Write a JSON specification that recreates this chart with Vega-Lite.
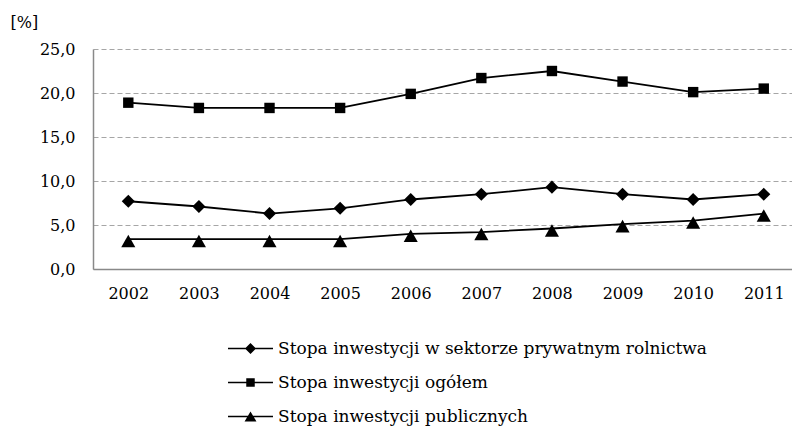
{
  "$schema": "https://vega.github.io/schema/vega-lite/v6.json",
  "width": 699,
  "height": 220,
  "autosize": {"type": "none"},
  "padding": {"left": 93, "top": 49, "right": 0, "bottom": 160},
  "background": "white",
  "config": {"font": "DejaVu Serif", "view": {"stroke": null}},
  "data": {
    "values": [
      {"series": "Stopa inwestycji w sektorze prywatnym rolnictwa", "year": 2002, "value": 7.7},
      {"series": "Stopa inwestycji w sektorze prywatnym rolnictwa", "year": 2003, "value": 7.1},
      {"series": "Stopa inwestycji w sektorze prywatnym rolnictwa", "year": 2004, "value": 6.3},
      {"series": "Stopa inwestycji w sektorze prywatnym rolnictwa", "year": 2005, "value": 6.9},
      {"series": "Stopa inwestycji w sektorze prywatnym rolnictwa", "year": 2006, "value": 7.9},
      {"series": "Stopa inwestycji w sektorze prywatnym rolnictwa", "year": 2007, "value": 8.5},
      {"series": "Stopa inwestycji w sektorze prywatnym rolnictwa", "year": 2008, "value": 9.3},
      {"series": "Stopa inwestycji w sektorze prywatnym rolnictwa", "year": 2009, "value": 8.5},
      {"series": "Stopa inwestycji w sektorze prywatnym rolnictwa", "year": 2010, "value": 7.9},
      {"series": "Stopa inwestycji w sektorze prywatnym rolnictwa", "year": 2011, "value": 8.5},
      {"series": "Stopa inwestycji ogółem", "year": 2002, "value": 18.9},
      {"series": "Stopa inwestycji ogółem", "year": 2003, "value": 18.3},
      {"series": "Stopa inwestycji ogółem", "year": 2004, "value": 18.3},
      {"series": "Stopa inwestycji ogółem", "year": 2005, "value": 18.3},
      {"series": "Stopa inwestycji ogółem", "year": 2006, "value": 19.9},
      {"series": "Stopa inwestycji ogółem", "year": 2007, "value": 21.7},
      {"series": "Stopa inwestycji ogółem", "year": 2008, "value": 22.5},
      {"series": "Stopa inwestycji ogółem", "year": 2009, "value": 21.3},
      {"series": "Stopa inwestycji ogółem", "year": 2010, "value": 20.1},
      {"series": "Stopa inwestycji ogółem", "year": 2011, "value": 20.5},
      {"series": "Stopa inwestycji publicznych", "year": 2002, "value": 3.4},
      {"series": "Stopa inwestycji publicznych", "year": 2003, "value": 3.4},
      {"series": "Stopa inwestycji publicznych", "year": 2004, "value": 3.4},
      {"series": "Stopa inwestycji publicznych", "year": 2005, "value": 3.4},
      {"series": "Stopa inwestycji publicznych", "year": 2006, "value": 4.0},
      {"series": "Stopa inwestycji publicznych", "year": 2007, "value": 4.2},
      {"series": "Stopa inwestycji publicznych", "year": 2008, "value": 4.6},
      {"series": "Stopa inwestycji publicznych", "year": 2009, "value": 5.1},
      {"series": "Stopa inwestycji publicznych", "year": 2010, "value": 5.5},
      {"series": "Stopa inwestycji publicznych", "year": 2011, "value": 6.3}
    ]
  },
  "encoding": {
    "x": {
      "field": "year",
      "type": "quantitative",
      "scale": {"domain": [2001.5, 2011.4], "nice": false, "zero": false},
      "axis": {
        "values": [2002, 2003, 2004, 2005, 2006, 2007, 2008, 2009, 2010, 2011],
        "format": "d",
        "grid": false,
        "ticks": false,
        "domainColor": "#898989",
        "domainWidth": 1.5,
        "labelFont": "DejaVu Serif",
        "labelFontSize": 16,
        "labelColor": "black",
        "labelPadding": 16,
        "labelFlush": false,
        "labelOverlap": false,
        "title": null,
        "zindex": 1
      }
    },
    "y": {
      "field": "value",
      "type": "quantitative",
      "scale": {"domain": [0, 25], "nice": false},
      "axis": {
        "values": [0, 5, 10, 15, 20, 25],
        "labelExpr": "replace(format(datum.value, '.1f'), '.', ',')",
        "grid": true,
        "gridDash": [5, 3],
        "gridColor": "#a6a6a6",
        "gridWidth": 1.2,
        "ticks": false,
        "domainColor": "#898989",
        "domainWidth": 1.5,
        "labelFont": "DejaVu Serif",
        "labelFontSize": 16,
        "labelColor": "black",
        "labelPadding": 18,
        "title": "[%]",
        "titleFont": "DejaVu Serif",
        "titleAngle": 0,
        "titleAlign": "left",
        "titleBaseline": "middle",
        "titleX": -83,
        "titleY": -27,
        "titleFontSize": 16,
        "titleFontWeight": "normal",
        "titleColor": "black"
      }
    }
  },
  "layer": [
    {
      "mark": {"type": "line", "color": "black", "strokeWidth": 1.8},
      "encoding": {"detail": {"field": "series", "type": "nominal"}}
    },
    {
      "mark": {"type": "point", "filled": true, "color": "black", "opacity": 1, "size": 150},
      "encoding": {
        "shape": {
          "field": "series",
          "type": "nominal",
          "scale": {
            "domain": ["Stopa inwestycji w sektorze prywatnym rolnictwa", "Stopa inwestycji ogółem", "Stopa inwestycji publicznych"],
            "range": ["M0,-1.07L1.07,0L0,1.07L-1.07,0Z", "M-0.85,-0.85H0.85V0.85H-0.85Z", "M0,-0.7L1.15,1.35L-1.15,1.35Z"]
          },
          "legend": null
        }
      }
    },
    {
      "mark": {"type": "point", "filled": true, "fill": "black", "opacity": 0, "size": 800},
      "encoding": {
        "shape": {
          "field": "series",
          "type": "nominal",
          "scale": {
            "domain": ["Stopa inwestycji w sektorze prywatnym rolnictwa", "Stopa inwestycji ogółem", "Stopa inwestycji publicznych"],
            "range": [
              "M-1.59,-0.055H1.59V0.055H-1.59ZM0,-0.39L0.39,0L0,0.39L-0.39,0Z",
              "M-1.59,-0.055H1.59V0.055H-1.59ZM-0.3,-0.3H0.3V0.3H-0.3Z",
              "M-1.59,-0.055H1.59V0.055H-1.59ZM0,-0.36L0.42,0.35L-0.42,0.35Z"
            ]
          },
          "legend": {
            "orient": "none",
            "legendX": 143,
            "legendY": 285,
            "padding": 0,
            "title": null,
            "direction": "vertical",
            "labelFont": "DejaVu Serif",
            "labelFontSize": 17,
            "labelColor": "black",
            "labelLimit": 600,
            "symbolSize": 800,
            "symbolFillColor": "black",
            "symbolStrokeWidth": 0,
            "symbolOpacity": 1,
            "labelOffset": 13,
            "rowPadding": 11
          }
        }
      }
    }
  ],
  "resolve": {"scale": {"shape": "independent"}}
}
